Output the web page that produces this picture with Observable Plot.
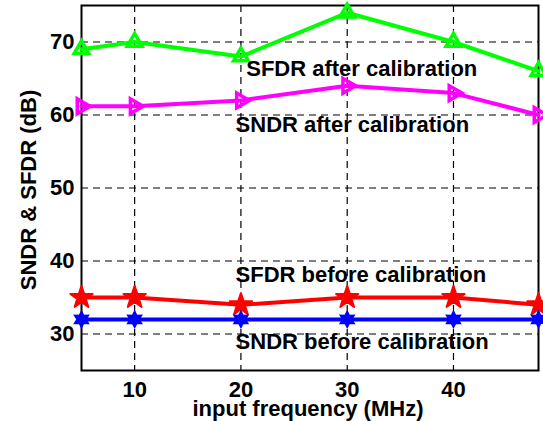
<!DOCTYPE html>
<html>
<head>
<meta charset="utf-8">
<script src="https://cdn.jsdelivr.net/npm/d3@7"></script>
<script src="https://cdn.jsdelivr.net/npm/@observablehq/plot@0.6"></script>
<style>
  html, body { margin: 0; padding: 0; background: #fff; }
</style>
</head>
<body>
<div id="chart"></div>
<script>
// ---- data ----
const freq = [5, 10, 20, 30, 40, 48];
const sfdrAfter  = [69, 70, 68, 74, 70, 66];
const sndrAfter  = [61.2, 61.2, 62, 64, 63, 60];
const sfdrBefore = [35, 35, 34, 35, 35, 34];
const sndrBefore = [32, 32, 32, 32, 32, 32];

const xTicks = [10, 20, 30, 40];
const yTicks = [30, 40, 50, 60, 70];

const labelText = ["SFDR after calibration", "SNDR after calibration", "SFDR before calibration", "SNDR before calibration"];
const labelX = [20.5, 19.5, 19.5, 19.5];
const labelY = [66.3, 58.6, 38.1, 28.9];

const xTitle = "input frequency (MHz)";
const yTitle = "SNDR & SFDR (dB)";

// ---- custom symbols ----
const triUp = {draw(ctx, size) {
  const r = Math.sqrt(size / Math.PI);
  ctx.moveTo(0, -r);
  ctx.lineTo(r * 0.866, r * 0.5);
  ctx.lineTo(-r * 0.866, r * 0.5);
  ctx.closePath();
}};
const triRight = {draw(ctx, size) {
  const r = Math.sqrt(size / Math.PI);
  ctx.moveTo(r, 0);
  ctx.lineTo(-r * 0.5, -r * 0.866);
  ctx.lineTo(-r * 0.5, r * 0.866);
  ctx.closePath();
}};
const hexagram = {draw(ctx, size) {
  const R = Math.sqrt(size / Math.PI);
  const ri = R * 0.55;
  for (let i = 0; i < 12; i++) {
    const a = -Math.PI / 2 + i * Math.PI / 6;
    const rr = i % 2 === 0 ? R : ri;
    const px = rr * Math.cos(a), py = rr * Math.sin(a);
    if (i === 0) ctx.moveTo(px, py); else ctx.lineTo(px, py);
  }
  ctx.closePath();
}};

const mk = (ys) => freq.map((f, i) => ({x: f, y: ys[i]}));
const dSfdrA = mk(sfdrAfter), dSndrA = mk(sndrAfter), dSfdrB = mk(sfdrBefore), dSndrB = mk(sndrBefore);
const labels = labelText.map((t, i) => ({t, x: labelX[i], y: labelY[i]}));

const FONT = "'Liberation Sans', Arial, Helvetica, sans-serif";

const chart = Plot.plot({
  width: 543,
  height: 421,
  marginLeft: 81,
  marginRight: 5,
  marginTop: 5,
  marginBottom: 51,
  style: {fontFamily: FONT, fontSize: "22px", fontWeight: "bold", color: "black", background: "white"},
  x: {domain: [5, 48]},
  y: {domain: [25, 75]},
  marks: [
    Plot.gridX(xTicks, {stroke: "black", strokeOpacity: 1, strokeWidth: 1.2, strokeDasharray: "7,5"}),
    Plot.gridY(yTicks, {stroke: "black", strokeOpacity: 1, strokeWidth: 1.2, strokeDasharray: "7,5"}),
    Plot.axisX(xTicks, {tickSize: 0, tickPadding: 11, label: null, fill: "black", fontSize: 22, fontWeight: "bold", fontFamily: FONT}),
    Plot.axisY(yTicks, {tickSize: 0, tickPadding: 7, label: null, fill: "black", fontSize: 22, fontWeight: "bold", fontFamily: FONT}),
    Plot.frame({stroke: "black", strokeWidth: 2}),
    Plot.line(dSfdrA, {x: "x", y: "y", stroke: "#00ff00", strokeWidth: 4}),
    Plot.dot(dSfdrA, {x: "x", y: "y", symbol: triUp, r: 8.5, stroke: "#00ff00", strokeWidth: 3.5, fill: "none"}),
    Plot.line(dSndrA, {x: "x", y: "y", stroke: "#ff00ff", strokeWidth: 4}),
    Plot.dot(dSndrA, {x: "x", y: "y", symbol: triRight, r: 8.5, stroke: "#ff00ff", strokeWidth: 3.5, fill: "none"}),
    Plot.line(dSfdrB, {x: "x", y: "y", stroke: "#ff0000", strokeWidth: 4}),
    Plot.dot(dSfdrB, {x: "x", y: "y", symbol: "star", r: 7, stroke: "#ff0000", strokeWidth: 2, strokeLinejoin: "round", fill: "#ff0000"}),
    Plot.line(dSndrB, {x: "x", y: "y", stroke: "#0000ff", strokeWidth: 4}),
    Plot.dot(dSndrB, {x: "x", y: "y", symbol: hexagram, r: 8, stroke: "#0000ff", strokeWidth: 1.5, fill: "#0000ff"}),
    Plot.text(labels, {x: "x", y: "y", text: "t", textAnchor: "start", lineAnchor: "middle", fill: "black", fontSize: 22}),
    Plot.text([xTitle], {frameAnchor: "bottom", textAnchor: "middle", lineAnchor: "middle", dy: 38, dx: -2, fill: "black", fontSize: 22}),
    Plot.text([yTitle], {frameAnchor: "left", textAnchor: "middle", lineAnchor: "middle", rotate: -90, dx: -53, dy: 2, fill: "black", fontSize: 22})
  ]
});
document.getElementById("chart").appendChild(chart);
</script>
</body>
</html>
